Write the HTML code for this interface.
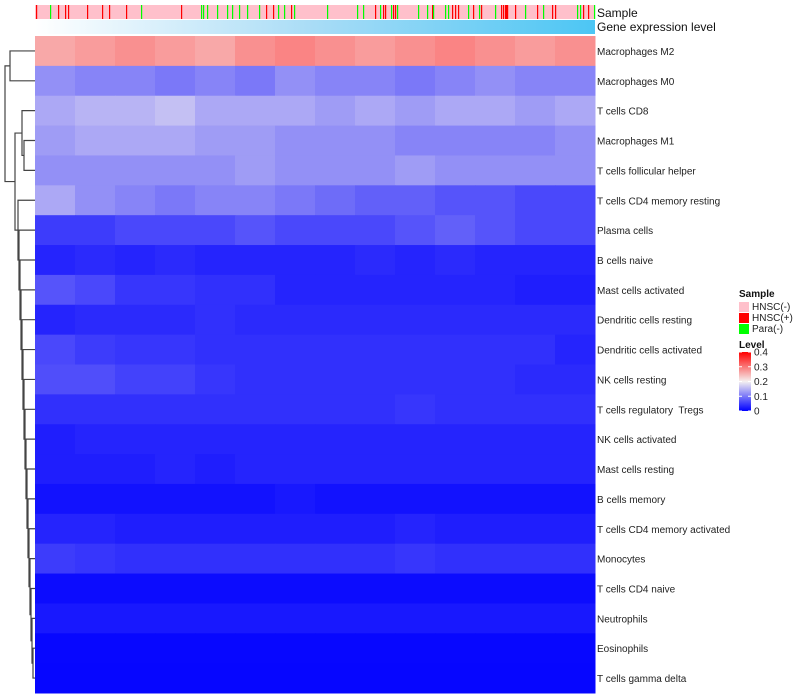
<!DOCTYPE html>
<html><head><meta charset="utf-8"><style>
body{margin:0;background:#fff;}
svg{display:block;font-family:"Liberation Sans",sans-serif;}
text{white-space:pre;}
</style></head><body>
<svg id="chart" width="800" height="700"></svg>
<script>
const rowNames=["Macrophages M2","Macrophages M0","T cells CD8","Macrophages M1","T cells follicular helper","T cells CD4 memory resting","Plasma cells","B cells naive","Mast cells activated","Dendritic cells resting","Dendritic cells activated","NK cells resting","T cells regulatory  Tregs","NK cells activated","Mast cells resting","B cells memory","T cells CD4 memory activated","Monocytes","T cells CD4 naive","Neutrophils","Eosinophils","T cells gamma delta"];
const rowM2=[0.26,0.27,0.28,0.27,0.26,0.28,0.29,0.28,0.27,0.28,0.29,0.28,0.27,0.28];
const rowM0=[0.12,0.11,0.11,0.10,0.11,0.10,0.12,0.11,0.11,0.10,0.11,0.12,0.11,0.11];
const rowCD8=[0.14,0.15,0.15,0.16,0.14,0.14,0.14,0.13,0.14,0.13,0.14,0.14,0.13,0.14];
const rowM1=[0.13,0.14,0.14,0.14,0.13,0.13,0.12,0.12,0.12,0.11,0.11,0.11,0.11,0.12];
const rowTfh=[0.12,0.12,0.12,0.12,0.12,0.13,0.12,0.12,0.12,0.13,0.12,0.12,0.12,0.12];
const rowCD4mr=[0.14,0.12,0.11,0.10,0.11,0.11,0.10,0.09,0.08,0.08,0.07,0.07,0.06,0.06];
const rowPlasma=[0.05,0.05,0.06,0.06,0.06,0.07,0.06,0.06,0.06,0.07,0.08,0.07,0.06,0.06];
const rowBnaive=[0.03,0.035,0.03,0.035,0.03,0.03,0.03,0.03,0.035,0.03,0.035,0.03,0.03,0.03];
const rowMastAct=[0.07,0.06,0.045,0.045,0.04,0.04,0.03,0.03,0.03,0.03,0.03,0.03,0.025,0.025];
const rowDCrest=[0.03,0.035,0.035,0.035,0.04,0.035,0.035,0.035,0.035,0.035,0.035,0.035,0.035,0.035];
const rowDCact=[0.06,0.05,0.045,0.045,0.04,0.04,0.04,0.04,0.04,0.04,0.04,0.04,0.04,0.03];
const rowNKrest=[0.065,0.065,0.055,0.055,0.045,0.04,0.04,0.04,0.04,0.04,0.04,0.04,0.035,0.035];
const rowTreg=[0.04,0.04,0.04,0.04,0.04,0.04,0.04,0.04,0.04,0.045,0.04,0.04,0.04,0.04];
const rowNKact=[0.025,0.03,0.03,0.03,0.03,0.03,0.03,0.03,0.03,0.03,0.03,0.03,0.03,0.03];
const rowMastRest=[0.025,0.025,0.025,0.03,0.025,0.03,0.03,0.03,0.03,0.03,0.03,0.03,0.03,0.03];
const rowBmem=[0.015,0.015,0.015,0.015,0.015,0.015,0.02,0.015,0.015,0.015,0.015,0.015,0.015,0.015];
const rowCD4ma=[0.03,0.03,0.025,0.025,0.025,0.025,0.025,0.025,0.025,0.03,0.025,0.025,0.025,0.025];
const rowMono=[0.05,0.045,0.04,0.04,0.04,0.04,0.04,0.04,0.04,0.045,0.04,0.04,0.04,0.04];
const rowCD4naive=[0.01,0.01,0.01,0.01,0.01,0.01,0.01,0.01,0.01,0.01,0.01,0.01,0.01,0.01];
const rowNeut=[0.02,0.02,0.02,0.02,0.02,0.02,0.02,0.02,0.02,0.02,0.02,0.02,0.02,0.02];
const rowEos=[0.006,0.006,0.006,0.006,0.006,0.006,0.006,0.006,0.006,0.006,0.006,0.006,0.006,0.006];
const rowTgd=[0.005,0.005,0.005,0.005,0.005,0.005,0.005,0.005,0.005,0.005,0.005,0.005,0.005,0.005];
const rowValues=[rowM2,rowM0,rowCD8,rowM1,rowTfh,rowCD4mr,rowPlasma,rowBnaive,rowMastAct,rowDCrest,rowDCact,rowNKrest,rowTreg,rowNKact,rowMastRest,rowBmem,rowCD4ma,rowMono,rowCD4naive,rowNeut,rowEos,rowTgd];
const nSamples=560;
const redSamples=[1,23,30,33,52,67,74,91,146,231,238,256,340,348,350,358,360,397,417,420,423,438,446,466,468,470,471,472,480,502,517,520,548,553];
const greenSamples=[15,106,166,168,172,182,192,197,204,212,224,243,249,259,292,322,328,345,356,362,383,392,398,410,413,433,444,460,490,508,542,545,559];
const levelTicks=[0,0.1,0.2,0.3,0.4];

const svg=document.getElementById('chart');
const NS='http://www.w3.org/2000/svg';
function mk(tag,attrs,parent){const e=document.createElementNS(NS,tag);for(const k in attrs)e.setAttribute(k,attrs[k]);(parent||svg).appendChild(e);return e;}
const X0=35,X1=595,Y0=36,Y1=693;
const rowH=(Y1-Y0)/rowNames.length;
function xSample(i){return X0+(X1-X0)*i/nSamples;}
function yRow(i){return Y0+rowH*i;}
function color(v){
  v=Math.max(0,Math.min(0.4,v));
  let r,g,b;
  if(v<=0.2){const t=v/0.2;r=245*t;g=240*t;b=255-15*t;}
  else{const t=(v-0.2)/0.2;r=245+10*t;g=240*(1-t);b=240*(1-t);}
  return `rgb(${Math.round(r)},${Math.round(g)},${Math.round(b)})`;
}
const sb=mk('rect',{x:X0,y:5,width:X1-X0,height:14,fill:'#ffc0cb'});


redSamples.forEach(i=>{const r=mk('rect',{x:xSample(i),y:5,width:1.2,height:14,fill:'#ff0000'});

});
greenSamples.forEach(i=>{const r=mk('rect',{x:xSample(i),y:5,width:1.2,height:14,fill:'#00ff00'});

});
const defs=mk('defs',{});
const lg=mk('linearGradient',{id:'gel',x1:0,x2:1,y1:0,y2:0},defs);
mk('stop',{offset:0,'stop-color':'#ffffff'},lg);
mk('stop',{offset:0.5,'stop-color':'#a8dcf6'},lg);
mk('stop',{offset:1,'stop-color':'#4cc6f4'},lg);
const gb=mk('rect',{x:X0,y:20,width:X1-X0,height:14,fill:'url(#gel)'});


const t1=mk('text',{x:597,y:17,'font-size':12,fill:'#111'});t1.textContent='Sample';


const t2=mk('text',{x:597,y:31,'font-size':12,fill:'#111'});t2.textContent='Gene expression level';


rowValues.forEach((vals,ri)=>{
  const n=vals.length;
  vals.forEach((v,ci)=>{
    const xa=X0+(X1-X0)*ci/n, xb=X0+(X1-X0)*(ci+1)/n;
    const c=mk('rect',{x:xa,y:yRow(ri),width:xb-xa+0.5,height:rowH+0.5,fill:color(v)});
    
    
  });
  const lb=mk('text',{x:597,y:yRow(ri)+rowH/2+4,'font-size':10,fill:'#222'});
  lb.textContent=rowNames[ri];
  
  
});
const dg=mk('g',{stroke:'#444','stroke-width':1.2,fill:'none'});


function c(i){return yRow(i)+rowH/2;}
function link(ya,xa,yb,xb,xm){mk('path',{d:`M${xa},${ya}H${xm}V${yb}H${xb}`},dg);return (ya+yb)/2;}
const a=link(c(0),35,c(1),35,10);
const b=link(c(3),35,c(4),35,24);
const cc=link(c(2),35,b,24,22);
let ly=link(c(20),35,c(21),35,33);
let lx=33;
for(let i=19;i>=5;i--){const nx=lx-1;ly=link(c(i),35,ly,lx,nx);lx=nx;}
const d=link(cc,22,ly,lx,15);
link(a,10,d,15,5);
const lgG=mk('g',{});


const ls=mk('text',{x:739,y:297,'font-size':10,'font-weight':'bold',fill:'#111'},lgG);ls.textContent='Sample';
[['HNSC(-)','#ffc0cb'],['HNSC(+)','#ff0000'],['Para(-)','#00ff00']].forEach((e,i)=>{
  const r=mk('rect',{x:739,y:302+i*11,width:10,height:10,fill:e[1]},lgG);
  
  
  const t=mk('text',{x:752,y:310+i*11,'font-size':10,fill:'#222'},lgG);t.textContent=e[0];
});
const ll=mk('text',{x:739,y:348,'font-size':10,'font-weight':'bold',fill:'#111'},lgG);ll.textContent='Level';
const cg=mk('linearGradient',{id:'lvl',x1:0,x2:0,y1:1,y2:0},defs);
levelTicks.forEach(v=>mk('stop',{offset:v/0.4,'stop-color':color(v)},cg));
const cb=mk('rect',{x:739,y:352,width:12,height:59,fill:'url(#lvl)'},lgG);


levelTicks.forEach(v=>{
  const y=411-59*v/0.4;
  mk('line',{x1:739,x2:742,y1:y,y2:y,stroke:'#fff','stroke-width':1},lgG);
  mk('line',{x1:748,x2:751,y1:y,y2:y,stroke:'#fff','stroke-width':1},lgG);
  const t=mk('text',{x:754,y:y+3.5,'font-size':10,fill:'#222'},lgG);t.textContent=String(v);
  
  
});
</script>
</body></html>
